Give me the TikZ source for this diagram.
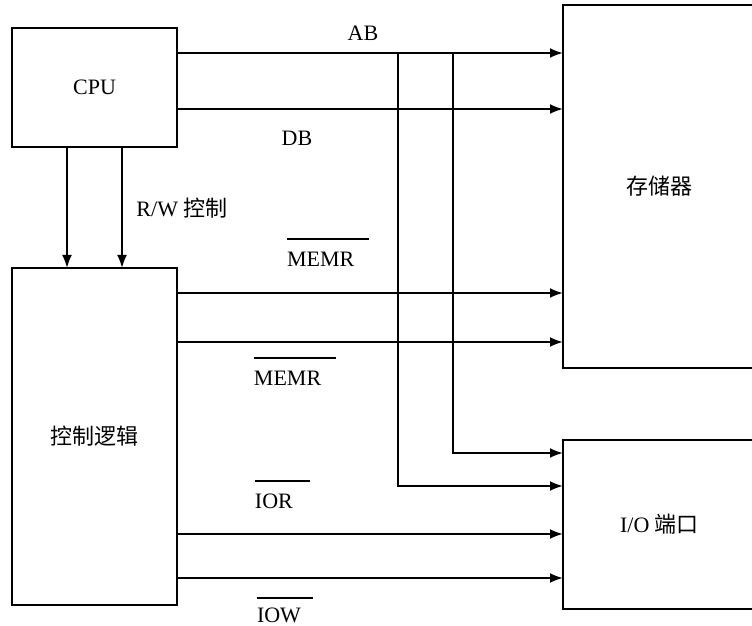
\documentclass[tikz,border=0pt]{standalone}
\usepackage{fontspec}
\setmainfont{Liberation Serif}
\newfontfamily\cjk{Noto Sans CJK SC}
\usetikzlibrary{arrows.meta}
\newcommand\ovl[3]{\vbox{\hrule width #2 height 0.6pt\kern #3\hbox{#1}}}
\begin{document}
\begin{tikzpicture}[x=0.5pt,y=-0.5pt,
  line width=1pt,
  box/.style={draw, rectangle, outer sep=0pt, inner sep=0pt, font=\fontsize{11}{13}\selectfont},
  openbox/.style={rectangle, outer sep=0pt, inner sep=0pt, font=\fontsize{11}{13}\selectfont},
  lbl/.style={inner sep=0pt, font=\fontsize{11}{13}\selectfont},
  arr/.style={-{Latex[length=6.5pt,width=5pt]}}]
\useasboundingbox (0,0) rectangle (752,626);
\fill[white] (0,0) rectangle (752,626);
% boxes
\node[box, minimum width=82.5pt, minimum height=59.5pt] (cpu) at (94.5,87.5) {CPU};
\node[box, minimum width=82.5pt, minimum height=168.5pt] (ctl) at (94.5,436.5) {\cjk 控制逻辑};
\node[openbox, minimum width=96.5pt, minimum height=181.5pt] (mem) at (659.5,186.5) {\cjk 存储器};
\node[openbox, minimum width=96.5pt, minimum height=84.5pt] (io) at (659.5,524.5) {I/O {\cjk 端口}};
\draw (mem.north east) -- (mem.north west) -- (mem.south west) -- (mem.south east);
\draw (io.north east) -- (io.north west) -- (io.south west) -- (io.south east);
% level coordinates
\coordinate (yab) at (0,53);
\coordinate (ydb) at (0,109);
\coordinate (ym1) at (0,293);
\coordinate (ym2) at (0,342);
\coordinate (yi1) at (0,453);
\coordinate (yi2) at (0,486);
\coordinate (yior) at (0,534);
\coordinate (yiow) at (0,578);
\coordinate (v1) at (67,0);
\coordinate (v2) at (122,0);
\coordinate (ja) at (398,53);
\coordinate (jb) at (453,53);
% CPU to control
\draw[arr] (cpu.south -| v1) -- (ctl.north -| v1);
\draw[arr] (cpu.south -| v2) -- (ctl.north -| v2);
% buses
\draw[arr] (cpu.east |- yab) -- (mem.west |- yab);
\draw[arr] (cpu.east |- ydb) -- (mem.west |- ydb);
\draw[arr] (ctl.east |- ym1) -- (mem.west |- ym1);
\draw[arr] (ctl.east |- ym2) -- (mem.west |- ym2);
\draw[arr] (ctl.east |- yior) -- (io.west |- yior);
\draw[arr] (ctl.east |- yiow) -- (io.west |- yiow);
\draw[arr] (jb) |- (io.west |- yi1);
\draw[arr] (ja) |- (io.west |- yi2);
% labels
\node[lbl] (lab) at (363,33) {AB};
\node[lbl] (ldb) at (297,138) {DB};
\node[lbl] (lrw) at (182,208) {R/W {\cjk 控制}};
\node[lbl, anchor=north west] (lm1) at (286,237.5) {\ovl{MEMR}{41pt}{6pt}};
\node[lbl, anchor=north west] (lm2) at (253,356.5) {\ovl{MEMR}{41pt}{6pt}};
\node[lbl, anchor=north west] (lior) at (254,479.5) {\ovl{IOR}{27.5pt}{6pt}};
\node[lbl, anchor=north west] (liow) at (256,596.5) {\ovl{IOW}{28pt}{4.5pt}};
\end{tikzpicture}
\end{document}
